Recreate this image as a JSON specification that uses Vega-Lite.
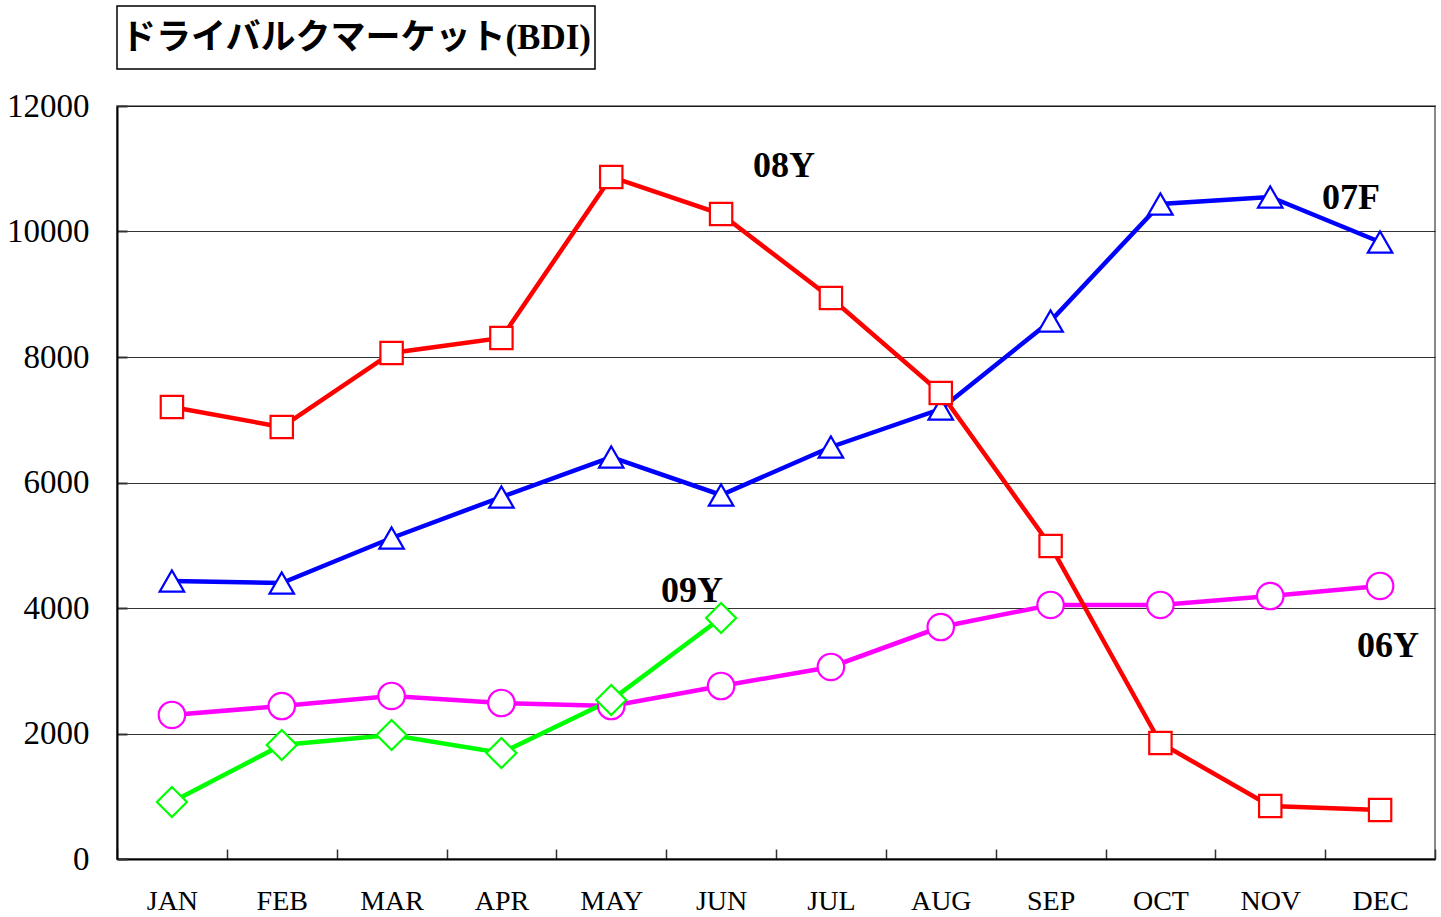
{
  "$schema": "https://vega.github.io/schema/vega-lite/v6.json",
  "background": "white",
  "padding": 5,
  "spacing": 37,
  "bounds": "flush",
  "config": {"font": "Liberation Serif"},
  "vconcat": [
    {
      "width": 478,
      "height": 63,
      "view": {"stroke": "black", "strokeWidth": 1.5, "fill": "white"},
      "data": {"values": [{"t": "ドライバルクマーケット(BDI)"}]},
      "mark": {"type": "text", "font": "'Liberation Serif', 'Noto Sans CJK JP'", "fontSize": 35, "fontWeight": "bold", "color": "black"},
      "encoding": {"text": {"field": "t"}}
    },
    {
      "width": 1318,
      "height": 753,
      "view": {"stroke": "#888888", "strokeWidth": 2},
      "data": {"values": [
        {"month": "JAN", "series": "06Y", "value": 2295},
        {"month": "FEB", "series": "06Y", "value": 2438},
        {"month": "MAR", "series": "06Y", "value": 2598},
        {"month": "APR", "series": "06Y", "value": 2486},
        {"month": "MAY", "series": "06Y", "value": 2438},
        {"month": "JUN", "series": "06Y", "value": 2757},
        {"month": "JUL", "series": "06Y", "value": 3060},
        {"month": "AUG", "series": "06Y", "value": 3697},
        {"month": "SEP", "series": "06Y", "value": 4048},
        {"month": "OCT", "series": "06Y", "value": 4048},
        {"month": "NOV", "series": "06Y", "value": 4191},
        {"month": "DEC", "series": "06Y", "value": 4351},
        {"month": "JAN", "series": "07F", "value": 4430},
        {"month": "FEB", "series": "07F", "value": 4398},
        {"month": "MAR", "series": "07F", "value": 5116},
        {"month": "APR", "series": "07F", "value": 5769},
        {"month": "MAY", "series": "07F", "value": 6406},
        {"month": "JUN", "series": "07F", "value": 5801},
        {"month": "JUL", "series": "07F", "value": 6566},
        {"month": "AUG", "series": "07F", "value": 7171},
        {"month": "SEP", "series": "07F", "value": 8574},
        {"month": "OCT", "series": "07F", "value": 10438},
        {"month": "NOV", "series": "07F", "value": 10550},
        {"month": "DEC", "series": "07F", "value": 9833},
        {"month": "JAN", "series": "08Y", "value": 7203},
        {"month": "FEB", "series": "08Y", "value": 6884},
        {"month": "MAR", "series": "08Y", "value": 8064},
        {"month": "APR", "series": "08Y", "value": 8303},
        {"month": "MAY", "series": "08Y", "value": 10869},
        {"month": "JUN", "series": "08Y", "value": 10279},
        {"month": "JUL", "series": "08Y", "value": 8940},
        {"month": "AUG", "series": "08Y", "value": 7426},
        {"month": "SEP", "series": "08Y", "value": 4988},
        {"month": "OCT", "series": "08Y", "value": 1849},
        {"month": "NOV", "series": "08Y", "value": 845},
        {"month": "DEC", "series": "08Y", "value": 781},
        {"month": "JAN", "series": "09Y", "value": 908},
        {"month": "FEB", "series": "09Y", "value": 1817},
        {"month": "MAR", "series": "09Y", "value": 1976},
        {"month": "APR", "series": "09Y", "value": 1689},
        {"month": "MAY", "series": "09Y", "value": 2534},
        {"month": "JUN", "series": "09Y", "value": 3841}
      ]},
      "encoding": {
        "x": {
          "field": "month", "type": "ordinal",
          "sort": ["JAN","FEB","MAR","APR","MAY","JUN","JUL","AUG","SEP","OCT","NOV","DEC"],
          "scale": {"type": "band", "paddingInner": 0, "paddingOuter": 0},
          "axis": {"title": null, "labelAngle": 0, "tickBand": "extent", "tickSize": -10, "tickColor": "#333333", "tickWidth": 1.5,
                   "labelFontSize": 28, "labelPadding": 38, "labelColor": "black", "labelFont": "Liberation Serif",
                   "domainColor": "black", "domainWidth": 2, "grid": false}
        },
        "y": {
          "field": "value", "type": "quantitative",
          "scale": {"domain": [0, 12000], "nice": false},
          "axis": {"title": null, "values": [0,2000,4000,6000,8000,10000,12000], "format": "d",
                   "tickSize": -10, "tickColor": "#333333", "tickWidth": 2,
                   "grid": true, "gridColor": "#000000", "gridWidth": 1, "gridOpacity": 0.8,
                   "labelFontSize": 33, "labelPadding": 38, "labelColor": "black", "labelFont": "Liberation Serif",
                   "domainColor": "black", "domainWidth": 2}
        }
      },
      "layer": [
        {
          "mark": {"type": "line", "strokeWidth": 4.5},
          "encoding": {
            "color": {"field": "series", "type": "nominal",
                      "scale": {"domain": ["06Y","07F","08Y","09Y"], "range": ["#FF00FF","#0000FF","#FF0000","#00FF00"]},
                      "legend": null}
          }
        },
        {
          "mark": {"type": "point", "filled": true, "fill": "white", "strokeWidth": 2.2, "opacity": 1},
          "encoding": {
            "stroke": {"field": "series", "type": "nominal",
                       "scale": {"domain": ["06Y","07F","08Y","09Y"], "range": ["#FF00FF","#0000FF","#FF0000","#00FF00"]},
                       "legend": null},
            "shape": {"field": "series", "type": "nominal",
                      "scale": {"domain": ["06Y","07F","08Y","09Y"], "range": ["circle","triangle-up","square","diamond"]},
                      "legend": null},
            "size": {"field": "series", "type": "nominal",
                     "scale": {"type": "ordinal", "domain": ["06Y","07F","08Y","09Y"], "range": [700, 600, 500, 900]},
                     "legend": null}
          }
        },
        {
          "data": {"values": [{"month": "JUN", "value": 11044, "label": "08Y"}]},
          "mark": {"type": "text", "dx": 63, "fontSize": 36, "fontWeight": "bold", "font": "Liberation Serif", "color": "black"},
          "encoding": {"text": {"field": "label"}}
        },
        {
          "data": {"values": [{"month": "DEC", "value": 10534, "label": "07F"}]},
          "mark": {"type": "text", "dx": -29, "fontSize": 36, "fontWeight": "bold", "font": "Liberation Serif", "color": "black"},
          "encoding": {"text": {"field": "label"}}
        },
        {
          "data": {"values": [{"month": "JUN", "value": 4271, "label": "09Y"}]},
          "mark": {"type": "text", "dx": -29, "fontSize": 36, "fontWeight": "bold", "font": "Liberation Serif", "color": "black"},
          "encoding": {"text": {"field": "label"}}
        },
        {
          "data": {"values": [{"month": "DEC", "value": 3394, "label": "06Y"}]},
          "mark": {"type": "text", "dx": 8, "fontSize": 36, "fontWeight": "bold", "font": "Liberation Serif", "color": "black"},
          "encoding": {"text": {"field": "label"}}
        }
      ]
    }
  ]
}
